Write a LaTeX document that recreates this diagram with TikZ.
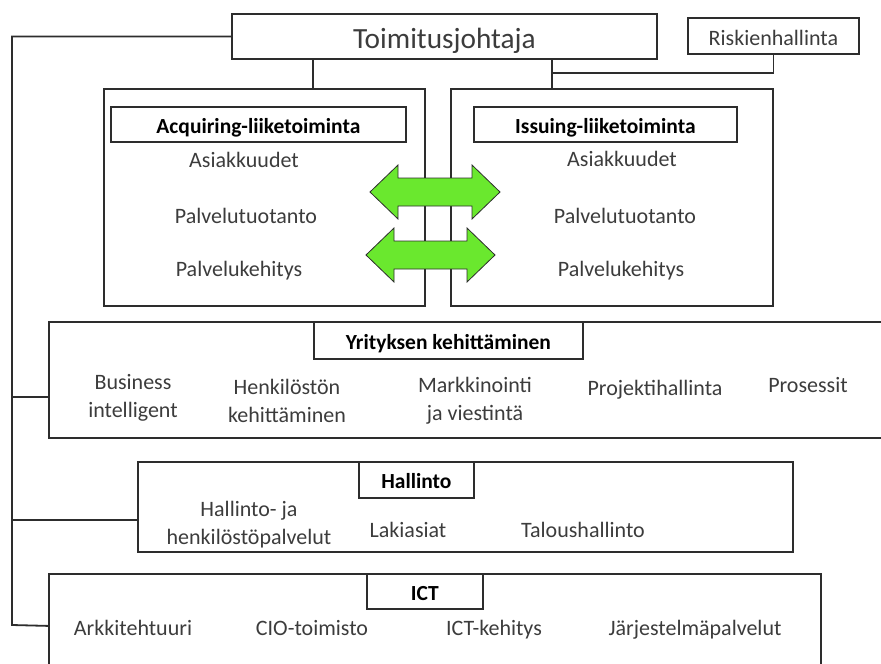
\documentclass[tikz,border=0pt]{standalone}
\usepackage{fontspec}
\setmainfont{Carlito}
\usetikzlibrary{positioning}
\definecolor{linegray}{RGB}{45,45,45}
\definecolor{textgray}{RGB}{60,60,60}
\definecolor{arrowgreen}{RGB}{106,232,46}

\begin{document}
\begin{tikzpicture}[x=1pt,y=-1pt,
  unit/.style={draw=linegray,line width=1.8pt,inner sep=0pt,anchor=north west,text=textgray},
  title/.style={unit,text=black,text height=18pt,text depth=0pt,font=\fontsize{21.5}{26}\selectfont\bfseries},
  item/.style={text=textgray,align=center,inner sep=0pt,font=\fontsize{22}{28}\selectfont},
  link/.style={draw=linegray,line width=1.8pt},
  twoway/.style={fill=arrowgreen,draw=linegray,line width=0.8pt,line join=miter}]
 \clip (0,0) rectangle (881,664);
 \node[unit,minimum width=425pt,minimum height=45pt,text height=31pt,text depth=6pt,font=\fontsize{29.3}{34}\selectfont] (ceo) at (231,13) {Toimitusjohtaja};
 \node[unit,minimum width=171pt,minimum height=36pt,text height=20pt,text depth=0pt,font=\fontsize{22}{26}\selectfont] (risk) at (687,17) {Riskienhallinta};
 \node[unit,minimum width=321pt,minimum height=217pt] (acq) at (103,88) {};
 \node[unit,minimum width=322pt,minimum height=217pt] (iss) at (450,88) {};
 \node[unit,minimum width=842pt,minimum height=116pt] (yk) at (48,321) {};
 \node[unit,minimum width=655pt,minimum height=90pt] (hall) at (137,461) {};
 \node[unit,minimum width=772pt,minimum height=104pt] (ict) at (48,573) {};

 \node[title,minimum width=295pt,minimum height=35pt] (acqt) at (110,106) {Acquiring-liiketoiminta};
 \node[title,minimum width=263pt,minimum height=35pt] (isst) at (473,106) {Issuing-liiketoiminta};
 \node[title,minimum width=269pt,minimum height=37pt] (ykt) at (313,321) {Yrityksen kehittäminen};
 \node[title,minimum width=115pt,minimum height=36pt] (hallt) at (358,461) {Hallinto};
 \node[title,minimum width=116pt,minimum height=35pt] (ictt) at (366,573) {ICT};

 \node[item,anchor=base] (acq1) at (244,167) {Asiakkuudet};
 \node[item,anchor=base] (acq2) at (246,223) {Palvelutuotanto};
 \node[item,anchor=base] (acq3) at (239,276) {Palvelukehitys};
 \node[item,anchor=base] (iss1) at (622,166) {Asiakkuudet};
 \node[item,anchor=base] (iss2) at (625,223) {Palvelutuotanto};
 \node[item,anchor=base] (iss3) at (621,276) {Palvelukehitys};

 \node[item] (yk1) at (133,398) {Business\\intelligent};
 \node[item] (yk2) at (287,401) {Henkilöstön\\kehittäminen};
 \node[item] (yk3) at (475,401) {Markkinointi\\ja viestintä};
 \node[item,anchor=base] (yk4) at (655,395) {Projektihallinta};
 \node[item,anchor=base] (yk5) at (808,392) {Prosessit};

 \node[item] (hall1) at (249,525) {Hallinto- ja\\henkilöstöpalvelut};
 \node[item,anchor=base] (hall2) at (408,537) {Lakiasiat};
 \node[item,anchor=base] (hall3) at (583,537) {Taloushallinto};

 \node[item,anchor=base] (ict1) at (133,635) {Arkkitehtuuri};
 \node[item,anchor=base] (ict2) at (312,635) {CIO-toimisto};
 \node[item,anchor=base] (ict3) at (494,635) {ICT-kehitys};
 \node[item,anchor=base] (ict4) at (695,635) {Järjestelmäpalvelut};

 \coordinate (acqtop) at (313,88);
 \coordinate (isstop) at (552,88);
 \coordinate (riskjoin) at (552,73);
 \coordinate (bus) at (12,625);
 \draw[link] (ceo.south -| acqtop) -- (acqtop);
 \draw[link] (ceo.south -| isstop) -- (isstop);
 \draw[link] (risk.south) |- (riskjoin);
 \draw[link] (ceo.west) -| (bus) -- (ict.west);
 \draw[link] (bus |- 0,397) -- (yk.west |- 0,397);
 \draw[link] (bus |- 0,520) -- (hall.west |- 0,520);

 \foreach \y/\l/\r in {192/370/500, 255/366/495}
  \draw[twoway] (\l,\y) -- (\l+28,\y-27) -- (\l+28,\y-14) -- (\r-28,\y-14) -- (\r-28,\y-27)
   -- (\r,\y) -- (\r-28,\y+27) -- (\r-28,\y+14) -- (\l+28,\y+14) -- (\l+28,\y+27) -- cycle;
\end{tikzpicture}
\end{document}
